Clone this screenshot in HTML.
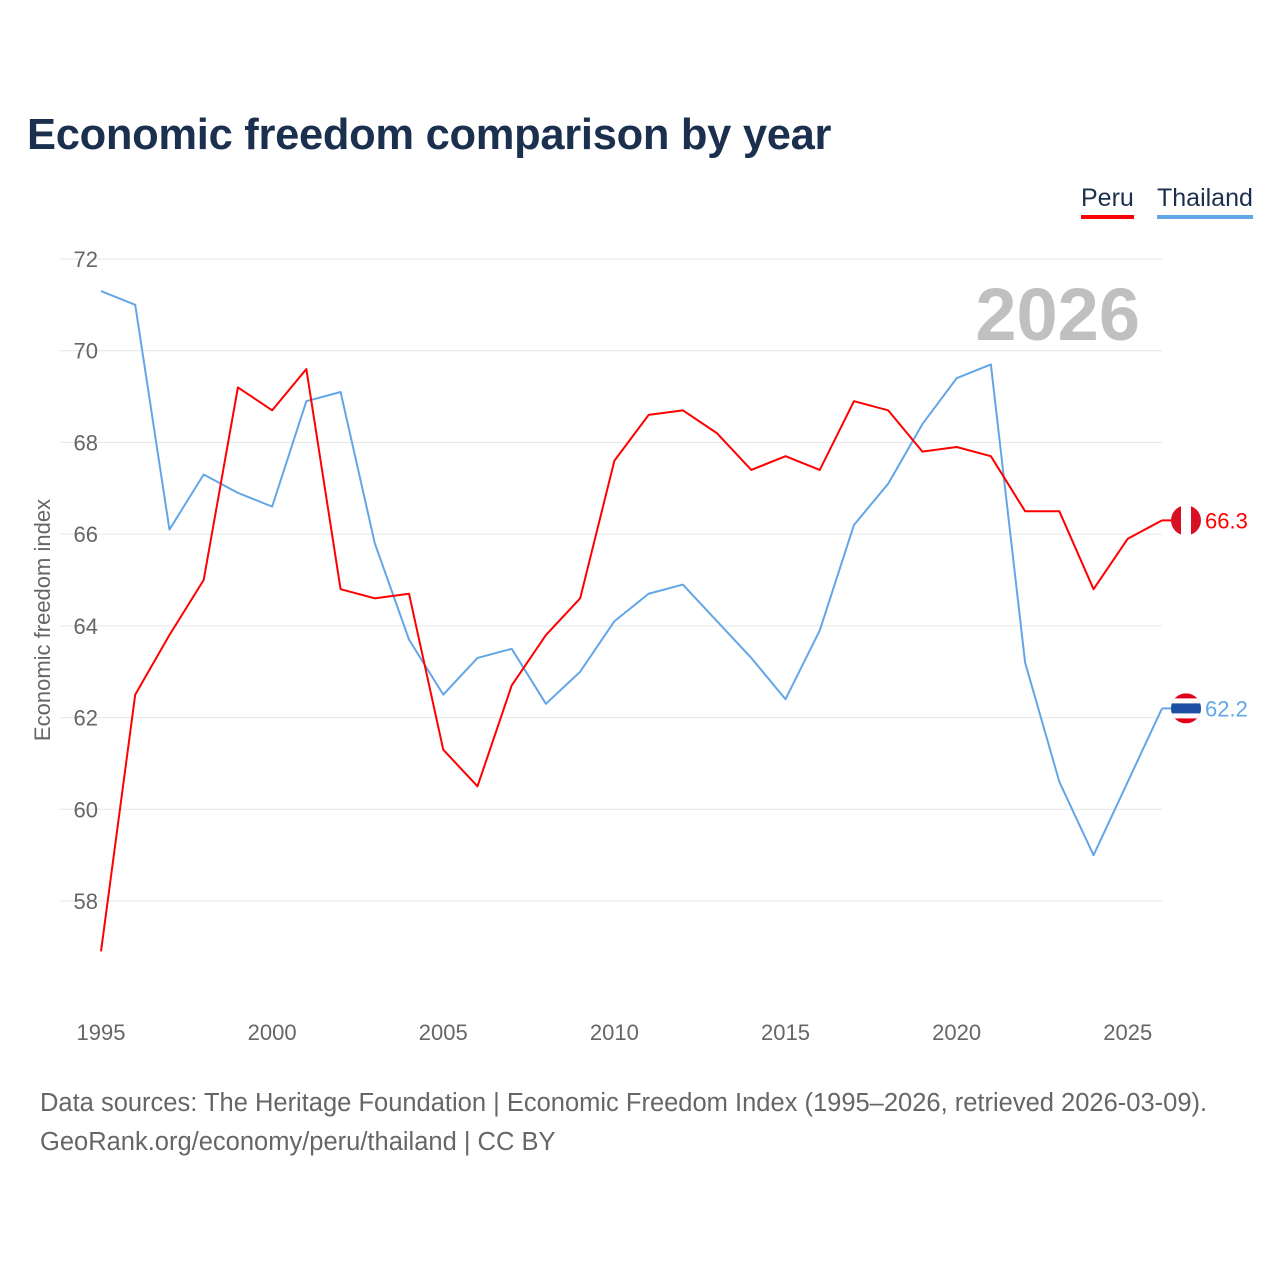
<!DOCTYPE html>
<html><head><meta charset="utf-8">
<style>
html,body{margin:0;padding:0;background:#fff;}
body{width:1280px;height:1280px;position:relative;font-family:"Liberation Sans",sans-serif;overflow:hidden;}
#title{position:absolute;left:27px;top:111px;font-size:43.5px;font-weight:bold;color:#1b2f4e;margin:0;letter-spacing:-0.3px;}
.leg{position:absolute;top:184px;font-size:25px;color:#1b2f4e;padding-bottom:2px;}
#src{position:absolute;left:40px;top:1084px;font-size:25.5px;color:#666;line-height:39px;}
</style></head><body>
<h1 id="title">Economic freedom comparison by year</h1>
<div class="leg" style="left:1081px;border-bottom:4px solid #f00;">Peru</div>
<div class="leg" style="left:1157px;border-bottom:4px solid #63a6e8;">Thailand</div>
<svg id="chart" width="1280" height="1280" style="position:absolute;left:0;top:0"></svg>
<div id="src">Data sources: The Heritage Foundation | Economic Freedom Index (1995–2026, retrieved 2026-03-09).<br>GeoRank.org/economy/peru/thailand | CC BY</div>
<script>
const years=[1995,1996,1997,1998,1999,2000,2001,2002,2003,2004,2005,2006,2007,2008,2009,2010,2011,2012,2013,2014,2015,2016,2017,2018,2019,2020,2021,2022,2023,2024,2025,2026];
const peru=[56.9,62.5,63.8,65.0,69.2,68.7,69.6,64.8,64.6,64.7,61.3,60.5,62.7,63.8,64.6,67.6,68.6,68.7,68.2,67.4,67.7,67.4,68.9,68.7,67.8,67.9,67.7,66.5,66.5,64.8,65.9,66.3];
const thailand=[71.3,71.0,66.1,67.3,66.9,66.6,68.9,69.1,65.8,63.7,62.5,63.3,63.5,62.3,63.0,64.1,64.7,64.9,64.1,63.3,62.4,63.9,66.2,67.1,68.4,69.4,69.7,63.2,60.6,59.0,60.6,62.2];
const yTicks=[58,60,62,64,66,68,70,72];
const xTicks=[1995,2000,2005,2010,2015,2020,2025];

const svg=document.getElementById('chart');
const NS='http://www.w3.org/2000/svg';
const X=v=>101+(v-1995)*(1162-101)/31;
const Y=v=>259+(72-v)*(901-259)/14;
function mk(t,a){const e=document.createElementNS(NS,t);for(const k in a)e.setAttribute(k,a[k]);svg.appendChild(e);return e;}
yTicks.forEach(t=>{
  const l=mk('line',{x1:60,x2:1162,y1:Y(t),y2:Y(t),stroke:'#e6e6e6','stroke-width':1});
  
  
  const tx=mk('text',{x:98,y:Y(t)+8,'text-anchor':'end','font-size':22,fill:'#666','font-family':'Liberation Sans, sans-serif'});
  tx.textContent=t;
  
  
});
xTicks.forEach(t=>{
  const tx=mk('text',{x:X(t),y:1040,'text-anchor':'middle','font-size':22,fill:'#666','font-family':'Liberation Sans, sans-serif'});
  tx.textContent=t;
  
  
});
const yt=mk('text',{transform:'translate(50,620) rotate(-90)','text-anchor':'middle','font-size':22,fill:'#666','font-family':'Liberation Sans, sans-serif'});
yt.textContent='Economic freedom index';


const yr=mk('text',{x:1140,y:340,'text-anchor':'end','font-size':74,'font-weight':'bold',fill:'#c0c0c0','font-family':'Liberation Sans, sans-serif'});
yr.textContent='2026';



function series(vals,color,name){
  const p=mk('polyline',{points:vals.map((v,i)=>X(years[i])+','+Y(v)).join(' '),fill:'none',stroke:color,'stroke-width':2,'stroke-linejoin':'round'});
  
  
  const last=vals[vals.length-1],cy=Y(last);
  mk('line',{x1:1162,x2:1172,y1:cy,y2:cy,stroke:color,'stroke-width':2});
  const g=mk('g',{});
  
  
  const cp=mk('clipPath',{id:'c'+name});
  const cc=document.createElementNS(NS,'circle');cc.setAttribute('cx',1186);cc.setAttribute('cy',cy);cc.setAttribute('r',15);cp.appendChild(cc);
  const fg=mk('g',{'clip-path':'url(#c'+name+')'});
  function r(x,y,w,h,f){const e=document.createElementNS(NS,'rect');e.setAttribute('x',x);e.setAttribute('y',y);e.setAttribute('width',w);e.setAttribute('height',h);e.setAttribute('fill',f);fg.appendChild(e);}
  if(name==='peru'){r(1171,cy-15,10,30,'#d91023');r(1181,cy-15,10,30,'#fff');r(1191,cy-15,10,30,'#d91023');}
  else{r(1171,cy-15,30,30,'#e0001a');r(1171,cy-10,30,20,'#fff');r(1171,cy-5,30,10,'#1d4fa3');}
  const lt=mk('text',{x:1205,y:cy+8,'font-size':22,fill:color,'font-family':'Liberation Sans, sans-serif'});
  lt.textContent=last.toFixed(1);
  
  
}
series(thailand,'#63a6e8','thailand');
series(peru,'#ff0000','peru');
</script>
</body></html>
